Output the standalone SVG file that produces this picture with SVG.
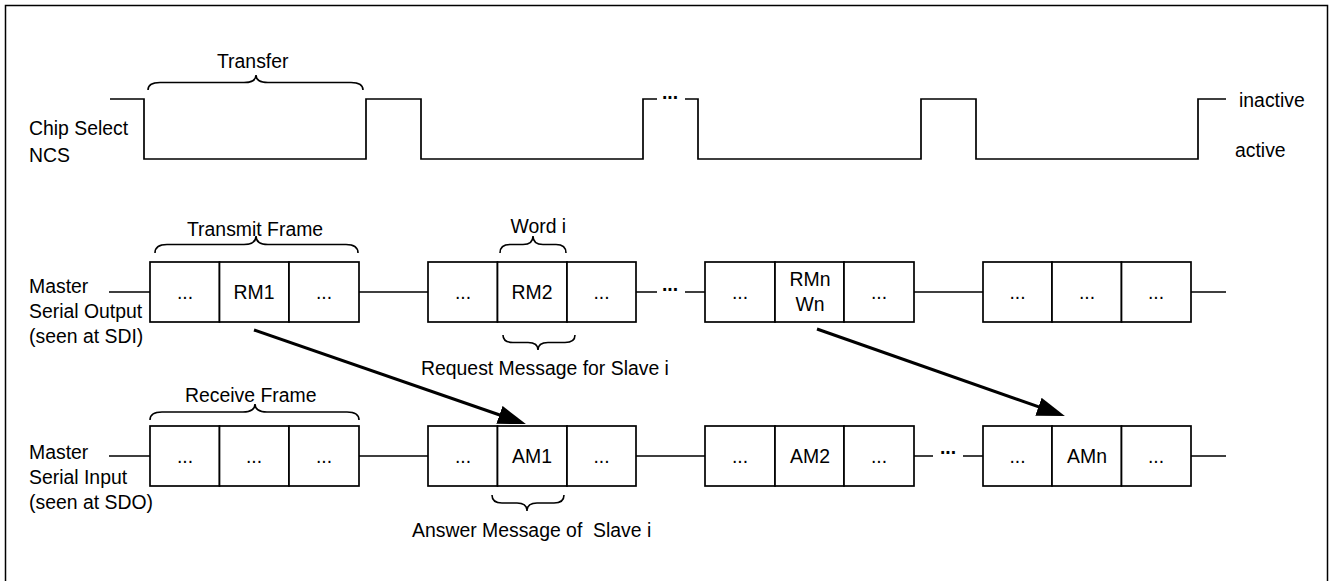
<svg xmlns="http://www.w3.org/2000/svg" width="1330" height="581" viewBox="0 0 1330 581">
<style>
text{font-family:"Liberation Sans",Arial,sans-serif;font-size:19.4px;fill:#000}
.c{text-anchor:middle}
.d{text-anchor:middle;font-weight:bold}
.cell{fill:#fff;stroke:#000;stroke-width:1.7}
.w{fill:none;stroke:#000;stroke-width:1.7}
.b{fill:none;stroke:#000;stroke-width:1.6}
.a{fill:none;stroke:#000;stroke-width:3}
.pre{white-space:pre}
</style>
<defs>
<marker id="ah" markerUnits="userSpaceOnUse" markerWidth="30" markerHeight="20" refX="8" refY="9.5" orient="auto">
<path d="M0,0 L28,9.5 L0,19 Z" fill="#000"/>
</marker>
</defs>
<rect x="5.5" y="5.5" width="1322" height="590" fill="#fff" stroke="#000" stroke-width="1.5"/>

<g id="labels">
<text x="217" y="68">Transfer</text>
<text x="29" y="135">Chip Select</text>
<text x="29" y="162">NCS</text>
<text x="1239" y="107">inactive</text>
<text x="1235" y="157">active</text>
<text x="187" y="236">Transmit Frame</text>
<text x="510.5" y="233">Word i</text>
<text x="29" y="293">Master</text>
<text x="29" y="318">Serial Output</text>
<text x="29" y="343">(seen at SDI)</text>
<text x="421" y="375">Request Message for Slave i</text>
<text x="185" y="402">Receive Frame</text>
<text x="29" y="459">Master</text>
<text x="29" y="484">Serial Input</text>
<text x="29" y="509">(seen at SDO)</text>
<text class="pre" x="412" y="537">Answer Message of  Slave i</text>
</g>

<g id="braces">
<path class="b" d="M148,90 Q148,82.5 160,82.5 L244,82.5 Q256,82.5 256,75 Q256,82.5 268,82.5 L351,82.5 Q363,82.5 363,90"/>
<path class="b" d="M155,253 Q155,244.5 167,244.5 L244,244.5 Q256,244.5 256,236 Q256,244.5 268,244.5 L346,244.5 Q358,244.5 358,253"/>
<path class="b" d="M500,253 Q500,244.5 510,244.5 L523,244.5 Q533,244.5 533,236 Q533,244.5 543,244.5 L556,244.5 Q566,244.5 566,253"/>
<path class="b" d="M150,420 Q150,412 162,412 L243,412 Q255,412 255,404 Q255,412 267,412 L347,412 Q359,412 359,420"/>
<path class="b" d="M503,335 Q503,342.5 513,342.5 L528,342.5 Q538,342.5 538,350 Q538,342.5 548,342.5 L565,342.5 Q575,342.5 575,335"/>
<path class="b" d="M492,495 Q492,503 502,503 L517,503 Q527,503 527,511 Q527,503 537,503 L554,503 Q564,503 564,495"/>
</g>

<g id="chip-select">
<path class="w" d="M110,99 L144,99 L144,159 L366,159 L366,99 L421,99 L421,159 L643,159 L643,99 L657,99 M685,99 L698,99 L698,159 L921,159 L921,99 L976,99 L976,159 L1198,159 L1198,99 L1226,99"/>
<text class="d" x="670" y="98.5">...</text>
</g>

<g id="connectors">
<path class="w" d="M109,292 H150 M359,292 H428 M636,292 H657 M685,292 H705 M914,292 H983 M1191,292 H1226"/>
<text class="d" x="670" y="291">...</text>
<path class="w" d="M109,456 H150 M359,456 H428 M636,456 H705 M914,456 H933 M963,456 H983 M1191,456 H1226"/>
<text class="d" x="948" y="454">...</text>
<line class="a" x1="254" y1="330" x2="507" y2="417.5" marker-end="url(#ah)"/>
<line class="a" x1="817" y1="329" x2="1046" y2="409.4" marker-end="url(#ah)"/>
</g>

<g id="tx-frame-1">
<rect class="cell" x="150" y="262" width="69.5" height="60"/><text class="c" x="185" y="299">...</text>
<rect class="cell" x="219.5" y="262" width="69.5" height="60"/><text class="c" x="254" y="299">RM1</text>
<rect class="cell" x="289" y="262" width="70" height="60"/><text class="c" x="324" y="299">...</text>
</g>
<g id="tx-frame-2">
<rect class="cell" x="428" y="262" width="69.5" height="60"/><text class="c" x="463" y="299">...</text>
<rect class="cell" x="497.5" y="262" width="69.5" height="60"/><text class="c" x="532" y="299">RM2</text>
<rect class="cell" x="567" y="262" width="69" height="60"/><text class="c" x="601.5" y="299">...</text>
</g>
<g id="tx-frame-3">
<rect class="cell" x="705" y="262" width="70" height="60"/><text class="c" x="740" y="299">...</text>
<rect class="cell" x="775" y="262" width="69" height="60"/><text class="c" x="810" y="286">RMn</text><text class="c" x="810" y="311">Wn</text>
<rect class="cell" x="844" y="262" width="70" height="60"/><text class="c" x="879" y="299">...</text>
</g>
<g id="tx-frame-4">
<rect class="cell" x="983" y="262" width="69" height="60"/><text class="c" x="1017.5" y="299">...</text>
<rect class="cell" x="1052" y="262" width="69.5" height="60"/><text class="c" x="1087" y="299">...</text>
<rect class="cell" x="1121.5" y="262" width="69.5" height="60"/><text class="c" x="1156" y="299">...</text>
</g>

<g id="rx-frame-1">
<rect class="cell" x="150" y="426" width="69.5" height="60"/><text class="c" x="185" y="463">...</text>
<rect class="cell" x="219.5" y="426" width="69.5" height="60"/><text class="c" x="254" y="463">...</text>
<rect class="cell" x="289" y="426" width="70" height="60"/><text class="c" x="324" y="463">...</text>
</g>
<g id="rx-frame-2">
<rect class="cell" x="428" y="426" width="69.5" height="60"/><text class="c" x="463" y="463">...</text>
<rect class="cell" x="497.5" y="426" width="69.5" height="60"/><text class="c" x="532" y="463">AM1</text>
<rect class="cell" x="567" y="426" width="69" height="60"/><text class="c" x="601.5" y="463">...</text>
</g>
<g id="rx-frame-3">
<rect class="cell" x="705" y="426" width="70" height="60"/><text class="c" x="740" y="463">...</text>
<rect class="cell" x="775" y="426" width="69" height="60"/><text class="c" x="810" y="463">AM2</text>
<rect class="cell" x="844" y="426" width="70" height="60"/><text class="c" x="879" y="463">...</text>
</g>
<g id="rx-frame-4">
<rect class="cell" x="983" y="426" width="69" height="60"/><text class="c" x="1017.5" y="463">...</text>
<rect class="cell" x="1052" y="426" width="69.5" height="60"/><text class="c" x="1087" y="463">AMn</text>
<rect class="cell" x="1121.5" y="426" width="69.5" height="60"/><text class="c" x="1156" y="463">...</text>
</g>
</svg>
